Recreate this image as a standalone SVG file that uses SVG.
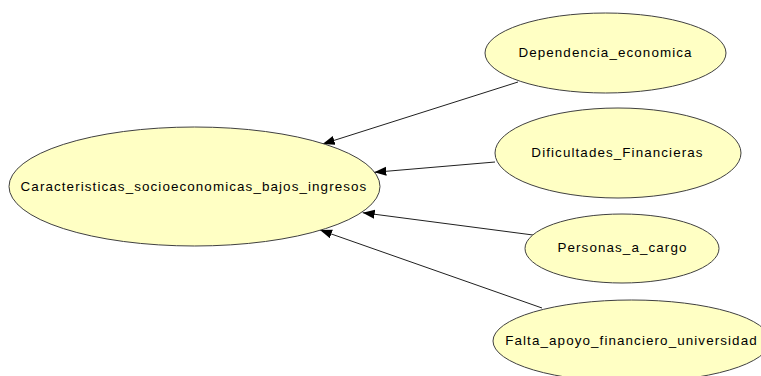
<svg xmlns="http://www.w3.org/2000/svg" width="761" height="376" viewBox="0 0 761 376">
  <style>
    .node ellipse { fill: #ffffc4; stroke: #404040; stroke-width: 1; }
    .node text { font-family: "Liberation Sans", Arial, sans-serif; font-size: 13.4px; fill: #000; text-anchor: middle; letter-spacing: 1.1px; }
    .edge { stroke: #202020; stroke-width: 1; fill: none; marker-end: url(#arrow); }
  </style>
  <defs>
    <marker id="arrow" markerUnits="userSpaceOnUse" markerWidth="13" markerHeight="10" refX="12" refY="4.5" orient="auto">
      <path d="M0,0 L12,4.5 L0,9 Z" fill="#000"/>
    </marker>
  </defs>
  <rect width="761" height="376" fill="#ffffff"/>

  <g id="edges">
    <line class="edge" x1="518" y1="82" x2="322.7" y2="144"/>
    <line class="edge" x1="495" y1="162" x2="374.3" y2="172.3"/>
    <line class="edge" x1="533" y1="235" x2="362.7" y2="212.7"/>
    <line class="edge" x1="542" y1="308" x2="320" y2="230"/>
  </g>

  <g id="node-caracteristicas" class="node">
    <ellipse cx="194.5" cy="186.5" rx="185.5" ry="59.5"/>
    <text x="194" y="191">Caracteristicas_socioeconomicas_bajos_ingresos</text>
  </g>

  <g id="node-dependencia" class="node">
    <ellipse cx="605.5" cy="53" rx="120.5" ry="40"/>
    <text x="605.5" y="57">Dependencia_economica</text>
  </g>

  <g id="node-dificultades" class="node">
    <ellipse cx="618" cy="153" rx="123" ry="45"/>
    <text x="617.5" y="157">Dificultades_Financieras</text>
  </g>

  <g id="node-personas" class="node">
    <ellipse cx="622" cy="248.5" rx="97" ry="34.5"/>
    <text x="622.5" y="252">Personas_a_cargo</text>
  </g>

  <g id="node-falta" class="node">
    <ellipse cx="631.5" cy="341" rx="138.5" ry="41"/>
    <text x="631.5" y="345">Falta_apoyo_financiero_universidad</text>
  </g>
</svg>
